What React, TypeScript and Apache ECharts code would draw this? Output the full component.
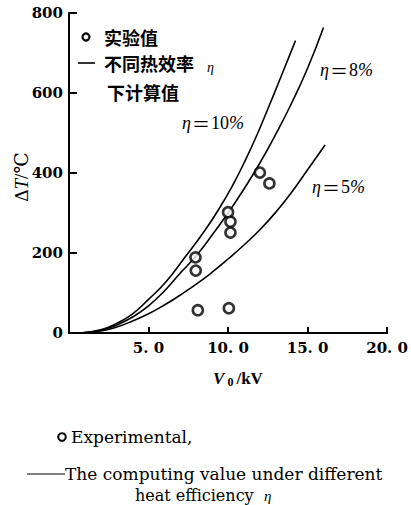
import React, { useEffect, useRef } from "react";
import * as echarts from "echarts";

const xTicks = [0, 5, 10, 15, 20];
const yTicks = [0, 200, 400, 600, 800];

const experimental: [number, number][] = [
  [7.95, 189], [7.97, 156], [8.1, 57], [10.0, 302], [10.15, 278],
  [10.15, 251], [10.05, 62], [12.0, 401], [12.6, 374],
];

const eta10: [number, number][] = [
  [0.7, 0], [2, 8], [3, 24], [4, 48], [5, 84], [6.1, 128], [7.3, 190],
  [8.55, 257], [9.5, 315], [10.3, 370], [11.0, 425], [11.76, 490],
  [12.5, 560], [13.2, 628], [14.24, 731],
];

const eta8: [number, number][] = [
  [0.7, 0], [2, 7], [3, 20], [4, 40], [5, 68], [6, 105], [7, 150],
  [8, 193], [9, 245], [10, 300], [11, 360], [12, 425], [13, 497],
  [14, 575], [15, 662], [16, 764],
];

const eta5: [number, number][] = [
  [0.7, 0], [2, 5], [3, 15], [4, 30], [5, 48], [6, 70], [7, 95],
  [8, 122], [9, 152], [10, 185], [11, 220], [12, 258], [13, 302],
  [14, 352], [15, 408], [16.1, 470],
];

const SERIF = "'Liberation Serif', 'DejaVu Serif', serif";
const DSERIF = "'DejaVu Serif', serif";
const CJK = "'Noto Sans CJK SC', sans-serif";

const txt = (x: number, y: number, text: string, extra: any = {}) => ({
  type: "text",
  x,
  y,
  style: {
    text,
    fill: "#000",
    fontFamily: DSERIF,
    fontSize: 17,
    verticalAlign: "middle",
    ...extra,
  },
});

const etaLabel = (x: number, y: number, num: string) => ({
  type: "text",
  x,
  y,
  style: {
    text: `{i|η}{e|＝}{n|${num}}{i|%}`,
    fill: "#000",
    verticalAlign: "middle",
    rich: {
      i: { fontStyle: "italic", fontFamily: SERIF, fontSize: 18, fill: "#000" },
      e: { fontFamily: CJK, fontSize: 18, fill: "#000", padding: [0, 1, 0, 1] },
      n: { fontFamily: SERIF, fontSize: 18, fill: "#000" },
    },
  },
});

export default function App() {
  const ref = useRef<HTMLDivElement>(null);

  useEffect(() => {
    if (!ref.current) return;
    const chart = echarts.init(ref.current, undefined, { renderer: "svg" });
    const lineStyle = { color: "#000", width: 1.6 };
    const lineSeries = (name: string, data: [number, number][]) => ({
      name,
      type: "line",
      data,
      smooth: 0.5,
      showSymbol: false,
      symbol: "none",
      lineStyle,
      z: 2,
    });
    chart.setOption({
      animation: false,
      backgroundColor: "#fff",
      grid: { left: 69, right: 20, top: 13, bottom: 172, containLabel: false },
      xAxis: {
        type: "value",
        min: xTicks[0],
        max: xTicks[xTicks.length - 1],
        interval: 5,
        splitLine: { show: false },
        axisLine: { lineStyle: { color: "#000", width: 2 } },
        axisTick: { inside: true, length: 6, lineStyle: { color: "#000", width: 2 } },
        axisLabel: {
          color: "#000",
          fontFamily: DSERIF,
          fontWeight: "bold",
          fontSize: 15,
          margin: 7,
          formatter: (v: number) => (v === 0 ? "" : v.toFixed(1).replace(".", ". ")),
        },
      },
      yAxis: {
        type: "value",
        min: yTicks[0],
        max: yTicks[yTicks.length - 1],
        interval: 200,
        splitLine: { show: false },
        axisLine: { lineStyle: { color: "#000", width: 2 } },
        axisTick: { inside: true, length: 8, lineStyle: { color: "#000", width: 2 } },
        axisLabel: {
          color: "#000",
          fontFamily: DSERIF,
          fontWeight: "bold",
          fontSize: 15,
          margin: 6,
        },
      },
      series: [
        lineSeries("η=10%", eta10),
        lineSeries("η=8%", eta8),
        lineSeries("η=5%", eta5),
        {
          name: "实验值",
          type: "scatter",
          data: experimental,
          symbol: "circle",
          symbolSize: 10,
          itemStyle: { color: "#fff", borderColor: "#000", borderWidth: 2.6 },
          z: 3,
        },
      ],
      graphic: [
        {
          type: "text",
          x: 21,
          y: 177,
          rotation: Math.PI / 2,
          style: {
            text: "{n|Δ}{i|T}{n|/℃}",
            fill: "#000",
            align: "center",
            verticalAlign: "middle",
            rich: {
              n: { fontFamily: SERIF, fontSize: 19, fill: "#000" },
              i: { fontStyle: "italic", fontFamily: SERIF, fontSize: 19, fill: "#000" },
            },
          },
        },
        {
          type: "text",
          x: 238,
          y: 378,
          style: {
            text: "{v|V}{s| 0}{n|/kV}",
            fill: "#000",
            align: "center",
            verticalAlign: "middle",
            rich: {
              v: { fontStyle: "italic", fontFamily: SERIF, fontWeight: "bold", fontSize: 17, fill: "#000" },
              s: { fontFamily: SERIF, fontWeight: "bold", fontSize: 12, padding: [7, 3, 0, 0], fill: "#000" },
              n: { fontFamily: SERIF, fontWeight: "bold", fontSize: 17, fill: "#000" },
            },
          },
        },
        // inner legend
        { type: "circle", shape: { cx: 86, cy: 37, r: 3.5 }, style: { fill: "#fff", stroke: "#000", lineWidth: 2.2 } },
        txt(104, 37, "实验值", { fontFamily: CJK, fontWeight: "bold", fontSize: 18 }),
        { type: "line", shape: { x1: 78, y1: 63, x2: 95, y2: 63 }, style: { stroke: "#000", lineWidth: 1.6 } },
        txt(104, 63, "不同热效率", { fontFamily: CJK, fontWeight: "bold", fontSize: 18 }),
        txt(207, 67, "η", { fontFamily: SERIF, fontStyle: "italic", fontSize: 14 }),
        txt(107, 92, "下计算值", { fontFamily: CJK, fontWeight: "bold", fontSize: 18 }),
        // curve labels
        etaLabel(182, 123, "10"),
        etaLabel(320, 70, "8"),
        etaLabel(312, 187, "5"),
        // bottom captions
        { type: "circle", shape: { cx: 62, cy: 437, r: 3.8 }, style: { fill: "#fff", stroke: "#000", lineWidth: 2 } },
        txt(71, 437, "Experimental,"),
        { type: "line", shape: { x1: 27, y1: 474, x2: 65, y2: 474 }, style: { stroke: "#000", lineWidth: 1.2 } },
        txt(65, 474, "The computing value under different"),
        txt(135, 495, "heat efficiency", { fontSize: 16 }),
        txt(264, 496, "η", { fontFamily: SERIF, fontStyle: "italic", fontSize: 15 }),
      ],
    });
    return () => chart.dispose();
  }, []);

  return (
    <div
      ref={ref}
      style={{ position: "fixed", left: 0, top: 0, width: 411, height: 505 }}
    />
  );
}
